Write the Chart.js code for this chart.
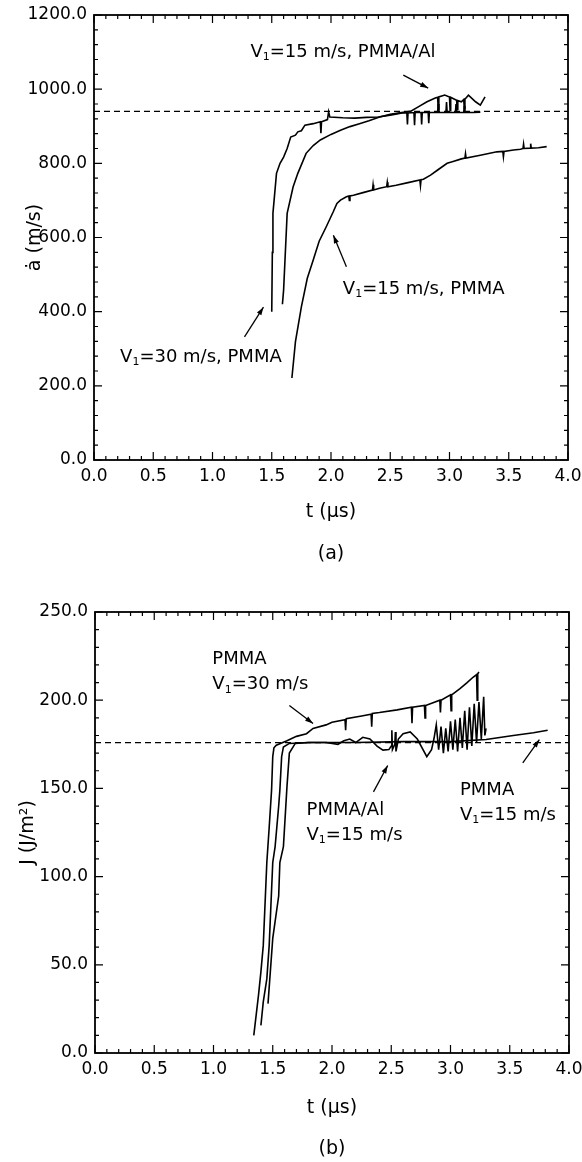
<!DOCTYPE html>
<html>
<head>
<meta charset="utf-8">
<script src="https://cdn.jsdelivr.net/npm/chart.js@4.4.1/dist/chart.umd.min.js"></script>
<style>
  html, body { margin: 0; padding: 0; background: #fff; }
  .box { position: absolute; left: 0; width: 582px; height: 581px; }
  #boxA { top: 0; }
  #boxB { top: 581px; }
</style>
</head>
<body>
<div class="box" id="boxA"><canvas id="speedChart"></canvas></div>
<div class="box" id="boxB"><canvas id="jChart"></canvas></div>
<script>
// ---- axes ----
const timeRange = [0, 4];
const timeTicks = [0, 0.5, 1, 1.5, 2, 2.5, 3, 3.5, 4];
const speedTicks = [0, 200, 400, 600, 800, 1000, 1200];
const jTicks = [0, 50, 100, 150, 200, 250];

// ---- (a) crack tip speed, m/s ----
const tPmma30 = [1.500,1.505,1.510,1.540,1.570,1.600,1.630,1.660,1.700,1.720,1.750,1.780,1.850,1.910,1.915,1.920,1.970,1.980,1.990,2.100,2.200,2.300,2.400,2.500,2.600,2.640,2.645,2.650,2.700,2.705,2.710,2.760,2.765,2.770,2.820,2.825,2.830,2.900,2.905,2.910,2.970,2.975,2.980,3.050,3.055,3.060,3.120,3.125,3.130,3.200,3.260];
const aPmma30 = [400,560,665,773,800,817,840,871,876,885,888,903,907,912,881,912,918,939,925,923,922,924,925,930,936,936,905,936,937,903,937,937,905,937,937,908,937,937,960,937,937,965,937,937,960,937,937,955,937,937,938];

const tPmmaAl = [1.59,1.60,1.63,1.68,1.72,1.79,1.85,1.91,2.00,2.08,2.16,2.24,2.32,2.41,2.50,2.58,2.67,2.74,2.81,2.88,2.90,2.905,2.91,2.96,3.00,3.005,3.01,3.03,3.06,3.065,3.07,3.10,3.12,3.125,3.13,3.16,3.22,3.26,3.30];
const aPmmaAl = [420,458,665,736,773,827,848,863,878,889,899,907,915,925,932,936,940,953,966,976,978,945,979,984,979,942,978,975,970,945,969,966,972,948,973,984,966,957,979];

const tPmma15 = [1.67,1.70,1.75,1.80,1.85,1.90,1.96,2.02,2.05,2.08,2.13,2.15,2.155,2.16,2.19,2.27,2.35,2.355,2.36,2.41,2.47,2.475,2.48,2.55,2.65,2.75,2.755,2.76,2.78,2.84,2.90,2.98,3.03,3.10,3.13,3.135,3.14,3.26,3.40,3.45,3.455,3.46,3.54,3.60,3.62,3.625,3.63,3.68,3.685,3.69,3.75,3.82];
const aPmma15 = [221,319,413,490,539,590,629,670,692,701,710,712,700,712,714,721,728,742,728,733,737,749,737,741,748,755,740,756,757,768,782,800,805,812,814,826,814,822,831,832,818,832,836,838,840,852,840,841,853,841,842,845];

const aDash = 940;

// ---- (b) J integral, J/m^2 ----
const tJ30 = [1.34,1.38,1.40,1.42,1.45,1.47,1.49,1.50,1.51,1.53,1.62,1.70,1.785,1.84,1.95,2.00,2.11,2.115,2.12,2.25,2.33,2.335,2.34,2.40,2.55,2.67,2.675,2.68,2.78,2.785,2.79,2.91,2.915,2.92,3.00,3.005,3.01,3.08,3.14,3.19,3.22,3.225,3.23,3.24];
const jJ30 = [10,33,46,61,108,128,149,168,173,174.5,177,179.5,181,184,186,187.5,189,183,189.5,191,192,185,192.5,193,194.5,196,187,196,197,190,197,200,193,200,203,194,203,206.6,210,213,214.5,200,215,216];

const tJAl = [1.40,1.42,1.45,1.47,1.50,1.52,1.55,1.56,1.575,1.59,1.64,1.80,1.95,2.05,2.10,2.15,2.20,2.26,2.32,2.38,2.43,2.48,2.50,2.505,2.51,2.53,2.535,2.54,2.56,2.60,2.66,2.72,2.80,2.84,2.86,2.88,2.90,2.92,2.94,2.96,2.98,3.00,3.02,3.04,3.06,3.08,3.10,3.12,3.14,3.16,3.18,3.20,3.22,3.24,3.26,3.28,3.29,3.30];
const jJAl = [15.7,29,42,61,108,117,140,149,168,173.5,175.5,176,176,175,177,178,176,179,178,174,171.7,172,174,183,172,175,182,171,178,181,182,178,168,172,178,186,172,185,170,184,171,188,172,189,171,190,173,194,172,196,174,198,176,199,178,202,180,184];

const tJ15 = [1.46,1.50,1.55,1.56,1.59,1.62,1.64,1.69,1.80,2.20,2.60,3.00,3.30,3.53,3.70,3.82];
const jJ15 = [28,65,89,108,117,151,170,175.5,176,176,176.5,176.5,177.7,180,181.5,183];

const jDash = 176;

// ---- helpers ----
const FONT = '"DejaVu Sans", "Liberation Sans", Arial, sans-serif';
const INK = '#000';
const pts = (xs, ys) => xs.map((x, i) => ({ x: x, y: ys[i] }));
const inList = (list, v) => list.some(m => Math.abs(m - v) < 1e-6);

function curve(xs, ys) {
  return { data: pts(xs, ys), showLine: true, borderColor: INK, borderWidth: 1.6, pointRadius: 0, fill: false, tension: 0 };
}
function dashLine(v) {
  return { data: pts(timeRange, [v, v]), showLine: true, borderColor: INK, borderWidth: 1.2, borderDash: [6, 4], pointRadius: 0, fill: false };
}

// text with a subscript "1" written as "_1"
function richText(ctx, str, x, y, size) {
  const parts = str.split('_1');
  let cx = x;
  parts.forEach((p, i) => {
    if (i > 0) {
      ctx.font = Math.round(size * 0.62) + 'px ' + FONT;
      ctx.fillText('1', cx, y + size * 0.3);
      cx += ctx.measureText('1').width;
    }
    ctx.font = size + 'px ' + FONT;
    ctx.fillText(p, cx, y);
    cx += ctx.measureText(p).width;
  });
}

function arrow(ctx, x1, y1, x2, y2) {
  const a = Math.atan2(y2 - y1, x2 - x1), L = 8, W = 2.6;
  ctx.beginPath(); ctx.moveTo(x1, y1); ctx.lineTo(x2, y2); ctx.stroke();
  ctx.beginPath();
  ctx.moveTo(x2, y2);
  ctx.lineTo(x2 - L * Math.cos(a) + W * Math.sin(a), y2 - L * Math.sin(a) - W * Math.cos(a));
  ctx.lineTo(x2 - L * Math.cos(a) - W * Math.sin(a), y2 - L * Math.sin(a) + W * Math.cos(a));
  ctx.closePath(); ctx.fill();
}

// frame with inward ticks on all four sides, plus notes and arrows
const figureDecor = {
  id: 'decor',
  afterDraw(chart, args, opts) {
    const { ctx, chartArea: a, scales: { x, y } } = chart;
    ctx.save();
    ctx.strokeStyle = INK; ctx.fillStyle = INK;
    ctx.lineWidth = 1.2;
    ctx.beginPath();
    x.ticks.forEach(t => {
      const px = x.getPixelForValue(t.value);
      const len = inList(timeTicks, t.value) ? 8 : 4;
      ctx.moveTo(px, a.bottom); ctx.lineTo(px, a.bottom - len);
      ctx.moveTo(px, a.top); ctx.lineTo(px, a.top + len);
    });
    y.ticks.forEach(t => {
      const py = y.getPixelForValue(t.value);
      const len = inList(opts.yMajor, t.value) ? 8 : 4;
      ctx.moveTo(a.left, py); ctx.lineTo(a.left + len, py);
      ctx.moveTo(a.right, py); ctx.lineTo(a.right - len, py);
    });
    ctx.stroke();
    ctx.lineWidth = 1.8;
    ctx.strokeRect(a.left, a.top, a.right - a.left, a.bottom - a.top);

    ctx.textBaseline = 'middle'; ctx.textAlign = 'left';
    opts.notes.forEach(n => {
      n.lines.forEach((s, i) => {
        richText(ctx, s, x.getPixelForValue(n.t), y.getPixelForValue(n.v) + i * 25, 18);
      });
    });
    ctx.lineWidth = 1.3;
    opts.arrows.forEach(r => {
      arrow(ctx, x.getPixelForValue(r[0]), y.getPixelForValue(r[1]), x.getPixelForValue(r[2]), y.getPixelForValue(r[3]));
    });
    ctx.textAlign = 'center';
    ctx.font = '19px ' + FONT;
    ctx.fillText(opts.caption, (a.left + a.right) / 2, opts.captionY);
    ctx.restore();
  }
};

function buildOptions(o) {
  return {
    responsive: true,
    maintainAspectRatio: false,
    animation: false,
    layout: { padding: { top: o.top, right: o.right, bottom: 0, left: 0 } },
    plugins: {
      legend: { display: false },
      tooltip: { enabled: false },
      decor: { yMajor: o.yMajor, notes: o.notes, arrows: o.arrows, caption: o.caption, captionY: o.captionY }
    },
    scales: {
      x: {
        type: 'linear', min: timeRange[0], max: timeRange[1],
        grid: { display: false, drawTicks: false },
        border: { display: false },
        ticks: {
          stepSize: 0.1, maxTicksLimit: 1000, autoSkip: false, maxRotation: 0, padding: 6,
          color: INK, font: { family: FONT, size: 17 },
          callback: v => inList(timeTicks, v) ? v.toFixed(1) : ''
        },
        title: { display: true, text: 't (µs)', color: INK, font: { family: FONT, size: 19 }, padding: { top: 0, bottom: o.xTitlePad } },
        afterFit: s => { s.height = o.xHeight; s.paddingLeft = 0; s.paddingRight = 0; }
      },
      y: {
        type: 'linear', min: o.yMajor[0], max: o.yMajor[o.yMajor.length - 1],
        grid: { display: false, drawTicks: false },
        border: { display: false },
        ticks: {
          stepSize: o.yMinor, maxTicksLimit: 1000, autoSkip: false, padding: 7,
          color: INK, font: { family: FONT, size: 17 },
          callback: v => inList(o.yMajor, v) ? v.toFixed(1) : ''
        },
        title: { display: true, text: o.yTitle, color: INK, font: { family: FONT, size: 19 }, padding: { top: o.yTitlePad, bottom: 0 } },
        afterFit: s => { s.width = o.yWidth; s.paddingTop = 0; s.paddingBottom = 0; }
      }
    }
  };
}

// (a) crack speed chart
new Chart(document.getElementById('speedChart').getContext('2d'), {
  type: 'scatter',
  data: {
    datasets: [
      dashLine(aDash),
      curve(tPmma30, aPmma30),
      curve(tPmmaAl, aPmmaAl),
      curve(tPmma15, aPmma15)
    ]
  },
  options: buildOptions({
    top: 15, right: 14, yWidth: 94, xHeight: 121, xTitlePad: 58, yTitlePad: 24,
    yMajor: speedTicks, yMinor: 40, yTitle: 'ȧ (m/s)',
    caption: '(a)', captionY: 554,
    notes: [
      { t: 1.32, v: 1100, lines: ['V_1=15 m/s, PMMA/Al'] },
      { t: 2.10, v: 461, lines: ['V_1=15 m/s, PMMA'] },
      { t: 0.22, v: 278, lines: ['V_1=30 m/s, PMMA'] }
    ],
    arrows: [
      [2.61, 1038, 2.82, 1003],
      [2.13, 521, 2.02, 606],
      [1.27, 332, 1.43, 412]
    ]
  }),
  plugins: [figureDecor]
});

// (b) J integral chart
new Chart(document.getElementById('jChart').getContext('2d'), {
  type: 'scatter',
  data: {
    datasets: [
      dashLine(jDash),
      curve(tJ30, jJ30),
      curve(tJAl, jJAl),
      curve(tJ15, jJ15)
    ]
  },
  options: buildOptions({
    top: 31, right: 13, yWidth: 95, xHeight: 109, xTitlePad: 43, yTitlePad: 17,
    yMajor: jTicks, yMinor: 10, yTitle: 'J (J/m²)',
    caption: '(b)', captionY: 568,
    notes: [
      { t: 0.99, v: 223, lines: ['PMMA', 'V_1=30 m/s'] },
      { t: 1.785, v: 137.7, lines: ['PMMA/Al', 'V_1=15 m/s'] },
      { t: 3.08, v: 149, lines: ['PMMA', 'V_1=15 m/s'] }
    ],
    arrows: [
      [1.64, 197, 1.84, 186.8],
      [2.35, 148, 2.47, 163],
      [3.61, 164.5, 3.75, 177.7]
    ]
  }),
  plugins: [figureDecor]
});
</script>
</body>
</html>
